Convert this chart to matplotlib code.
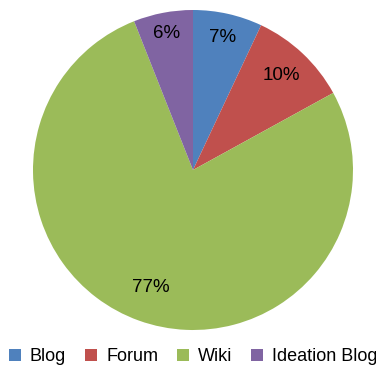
import numpy as np
import matplotlib
matplotlib.use("Agg")
import matplotlib.pyplot as plt
from matplotlib.lines import Line2D

plt.rcParams["font.family"] = ["Liberation Sans", "DejaVu Sans"]

# share of posts by tool type
labels = ["Blog", "Forum", "Wiki", "Ideation Blog"]
shares = [7, 10, 77, 6]
colors = ["#4F81BD", "#C0504D", "#9BBB59", "#8064A2"]
# radial placement of each percentage label (fraction of radius)
label_dist = [0.85, 0.81, 0.78, 0.87]

W, H = 376, 366
fig = plt.figure(figsize=(W / 100, H / 100), dpi=100)

# pie box: centre (193, 170) px, radius 160 px
cx, cy, r = 193, 170, 160
ax = fig.add_axes([(cx - r) / W, (H - cy - r) / H, 2 * r / W, 2 * r / H])
wedges, _, autotexts = ax.pie(
    shares, colors=colors, startangle=90, counterclock=False,
    autopct=lambda p: f"{p:.0f}%", pctdistance=0.82,
    wedgeprops=dict(linewidth=0),
    textprops=dict(fontsize=13.5, color="black"))
for w, t, d in zip(wedges, autotexts, label_dist):
    mid = np.deg2rad((w.theta1 + w.theta2) / 2)
    t.set_position((d * np.cos(mid), d * np.sin(mid)))
ax.set_xlim(-1, 1)
ax.set_ylim(-1, 1)
ax.set_aspect("auto")
ax.axis("off")

handles = [Line2D([], [], marker="s", linestyle="none", markersize=8.5,
                  markerfacecolor=c, markeredgewidth=0) for c in colors]
fig.legend(handles, labels, loc="center left", bbox_to_anchor=(9 / W, 0.025),
           ncol=4, frameon=False, fontsize=13, borderpad=0, borderaxespad=0,
           handlelength=0.66, handletextpad=0.5, columnspacing=1.05)

fig.savefig("out.png", dpi=100)
